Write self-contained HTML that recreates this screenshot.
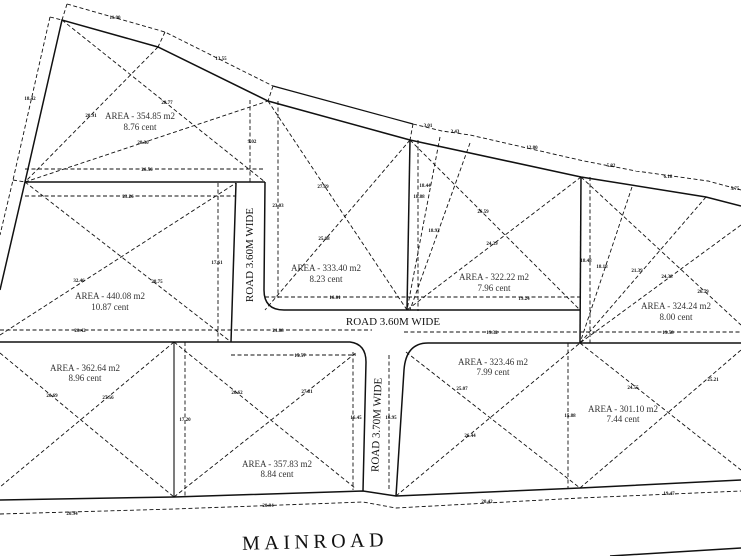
<!DOCTYPE html>
<html><head><meta charset="utf-8"><style>
html,body{margin:0;padding:0;background:#fff;}
svg{display:block;}
.s{stroke:#111;stroke-width:1.5;fill:none;}
.d{stroke:#111;stroke-width:0.9;fill:none;stroke-dasharray:4,2.5;}
.t{font-family:"Liberation Serif",serif;font-size:5px;font-weight:bold;fill:#111;text-anchor:middle;}
.a{font-family:"Liberation Serif",serif;font-size:9px;fill:#333;text-anchor:middle;}
.r{font-family:"Liberation Serif",serif;font-size:11px;fill:#111;text-anchor:middle;}
</style></head><body>
<svg width="741" height="556" viewBox="0 0 741 556" xmlns="http://www.w3.org/2000/svg">
<rect width="741" height="556" fill="#fff"/>
<!-- top boundary -->
<polyline class="s" points="0,290 25,182 62,20 158,47 268,101 410,140 581,177 706,197 741,206"/>
<polyline class="s" points="273,86 413,124" style="stroke-width:1.2"/>
<!-- top dashed dims -->
<polyline class="d" points="67,4 165,32 273,86"/>
<polyline class="d" points="413,124 442,131 470,135 584,161 636,171 708,181 741,190"/>
<polyline class="d" points="50,17 13,180 0,235"/>
<line class="d" x1="50" y1="17" x2="62" y2="20"/><line class="d" x1="67" y1="4" x2="62" y2="20"/>
<line class="d" x1="165" y1="32" x2="158" y2="47"/>
<line class="d" x1="273" y1="86" x2="268" y2="101"/>
<line class="d" x1="413" y1="124" x2="410" y2="140"/>
<line class="d" x1="13" y1="180" x2="25" y2="182"/>
<!-- road left lot edges -->
<polyline class="s" points="25,182 265,182"/>
<polyline class="s" points="236,183 231,342"/>
<path class="s" d="M265,182 L264,290 Q264,310 284,310 L580,310"/>
<line class="s" x1="410" y1="140" x2="407" y2="310"/>
<line class="s" x1="581" y1="177" x2="580" y2="343"/>
<!-- lower road -->
<path class="s" d="M0,342 L350,342 Q366,344 366,362 L363,491"/>
<path class="s" d="M396,496 L404,370 Q406,343 428,343 L741,343"/>
<!-- bottom boundary -->
<polyline class="s" points="0,500 174,497 363,491 396,496 580,488 741,480"/>
<line class="s" x1="174" y1="342" x2="174" y2="497" style="stroke-width:1.1"/>
<line class="s" x1="610" y1="556" x2="741" y2="548"/>
<polyline class="d" points="0,514 174,509 363,502 396,508 580,498 741,491"/>
<!-- dashed dims -->
<line class="d" x1="25" y1="169" x2="265" y2="169"/>
<line class="d" x1="25" y1="196" x2="236" y2="196"/>
<line class="d" x1="250" y1="100" x2="250" y2="182"/>
<line class="d" x1="278" y1="101" x2="278" y2="298"/>
<line class="d" x1="218" y1="183" x2="218" y2="342"/>
<line class="d" x1="0" y1="330" x2="372" y2="330"/>
<line class="d" x1="231" y1="355" x2="356" y2="355"/>
<line class="d" x1="265" y1="297" x2="580" y2="297"/>
<line class="d" x1="404" y1="332" x2="741" y2="332"/>
<line class="d" x1="418" y1="140" x2="418" y2="311"/>
<line class="d" x1="590" y1="177" x2="590" y2="343"/>
<line class="d" x1="185" y1="342" x2="185" y2="497"/>
<line class="d" x1="353" y1="352" x2="353" y2="490"/>
<line class="d" x1="389" y1="355" x2="389" y2="490"/>
<line class="d" x1="568" y1="343" x2="568" y2="488"/>
<!-- diagonals -->
<line class="d" x1="62" y1="20" x2="265" y2="182"/>
<line class="d" x1="158" y1="47" x2="25" y2="182"/>
<line class="d" x1="25" y1="182" x2="268" y2="101"/>
<line class="d" x1="25" y1="182" x2="231" y2="342"/>
<line class="d" x1="0" y1="335" x2="236" y2="183"/>
<line class="d" x1="268" y1="101" x2="407" y2="310"/>
<line class="d" x1="410" y1="140" x2="265" y2="310"/>
<line class="d" x1="410" y1="140" x2="580" y2="310"/>
<line class="d" x1="581" y1="177" x2="407" y2="310"/>
<line class="d" x1="440" y1="137" x2="407" y2="310"/>
<line class="d" x1="470" y1="143" x2="410" y2="310"/>
<line class="d" x1="581" y1="177" x2="741" y2="325"/>
<line class="d" x1="741" y1="225" x2="580" y2="343"/>
<line class="d" x1="706" y1="197" x2="580" y2="343"/>
<line class="d" x1="632" y1="187" x2="580" y2="343"/>
<line class="d" x1="0" y1="353" x2="174" y2="497"/>
<line class="d" x1="174" y1="342" x2="0" y2="487"/>
<line class="d" x1="174" y1="342" x2="355" y2="488"/>
<line class="d" x1="174" y1="497" x2="357" y2="352"/>
<line class="d" x1="406" y1="352" x2="580" y2="488"/>
<line class="d" x1="396" y1="496" x2="580" y2="343"/>
<line class="d" x1="580" y1="343" x2="741" y2="470"/>
<line class="d" x1="580" y1="488" x2="741" y2="350"/>
<!-- small dim labels -->
<text class="t" x="115" y="19">11.00</text>
<text class="t" x="221" y="60">13.55</text>
<text class="t" x="30" y="100">18.42</text>
<text class="t" x="91" y="117">20.91</text>
<text class="t" x="167" y="104">28.77</text>
<text class="t" x="143" y="144">28.30</text>
<text class="t" x="147" y="171">26.56</text>
<text class="t" x="128" y="198">23.26</text>
<text class="t" x="252" y="143">9.02</text>
<text class="t" x="278" y="207">23.03</text>
<text class="t" x="217" y="264">17.61</text>
<text class="t" x="323" y="188">27.69</text>
<text class="t" x="324" y="240">25.08</text>
<text class="t" x="335" y="299">16.01</text>
<text class="t" x="428" y="127">3.01</text>
<text class="t" x="455" y="133">3.43</text>
<text class="t" x="532" y="149">12.80</text>
<text class="t" x="611" y="167">5.82</text>
<text class="t" x="668" y="178">6.18</text>
<text class="t" x="735" y="190">5.75</text>
<text class="t" x="425" y="187">18.44</text>
<text class="t" x="419" y="198">18.88</text>
<text class="t" x="434" y="232">18.93</text>
<text class="t" x="483" y="213">26.59</text>
<text class="t" x="492" y="245">24.39</text>
<text class="t" x="524" y="300">19.24</text>
<text class="t" x="586" y="262">18.48</text>
<text class="t" x="602" y="268">18.18</text>
<text class="t" x="637" y="272">21.39</text>
<text class="t" x="667" y="278">24.38</text>
<text class="t" x="703" y="293">26.79</text>
<text class="t" x="79" y="282">32.46</text>
<text class="t" x="157" y="283">28.75</text>
<text class="t" x="80" y="332">20.42</text>
<text class="t" x="278" y="332">21.88</text>
<text class="t" x="300" y="357">15.57</text>
<text class="t" x="492" y="334">19.32</text>
<text class="t" x="668" y="334">19.58</text>
<text class="t" x="52" y="397">26.69</text>
<text class="t" x="108" y="399">27.56</text>
<text class="t" x="185" y="421">17.20</text>
<text class="t" x="237" y="394">26.62</text>
<text class="t" x="307" y="393">27.81</text>
<text class="t" x="356" y="419">16.45</text>
<text class="t" x="391" y="419">16.95</text>
<text class="t" x="462" y="390">25.07</text>
<text class="t" x="470" y="437">26.44</text>
<text class="t" x="570" y="417">15.88</text>
<text class="t" x="633" y="389">24.55</text>
<text class="t" x="713" y="381">25.21</text>
<text class="t" x="72" y="515">20.94</text>
<text class="t" x="268" y="507">20.94</text>
<text class="t" x="487" y="503">20.42</text>
<text class="t" x="669" y="495">19.47</text>
<!-- area labels -->
<text class="a" x="140" y="119">AREA - 354.85 m2</text><text class="a" x="140" y="130">8.76 cent</text>
<text class="a" x="110" y="299">AREA - 440.08 m2</text><text class="a" x="110" y="310">10.87 cent</text>
<text class="a" x="326" y="271">AREA - 333.40 m2</text><text class="a" x="326" y="282">8.23 cent</text>
<text class="a" x="494" y="280">AREA - 322.22 m2</text><text class="a" x="494" y="291">7.96 cent</text>
<text class="a" x="676" y="309">AREA - 324.24 m2</text><text class="a" x="676" y="320">8.00 cent</text>
<text class="a" x="85" y="371">AREA - 362.64 m2</text><text class="a" x="85" y="381">8.96 cent</text>
<text class="a" x="277" y="467">AREA - 357.83 m2</text><text class="a" x="277" y="477">8.84 cent</text>
<text class="a" x="493" y="365">AREA - 323.46 m2</text><text class="a" x="493" y="375">7.99 cent</text>
<text class="a" x="623" y="412">AREA - 301.10 m2</text><text class="a" x="623" y="422">7.44 cent</text>
<!-- road labels -->
<text class="r" x="393" y="325">ROAD 3.60M WIDE</text>
<text class="r" transform="translate(253,255) rotate(-90)">ROAD 3.60M WIDE</text>
<text class="r" transform="translate(380,425) rotate(-88)">ROAD 3.70M WIDE</text>
<text x="315" y="548" transform="rotate(-1.5 315 540)" style="font-family:'Liberation Serif',serif;font-size:20px;letter-spacing:4.5px;fill:#111;text-anchor:middle">MAINROAD</text>
</svg>
</body></html>
